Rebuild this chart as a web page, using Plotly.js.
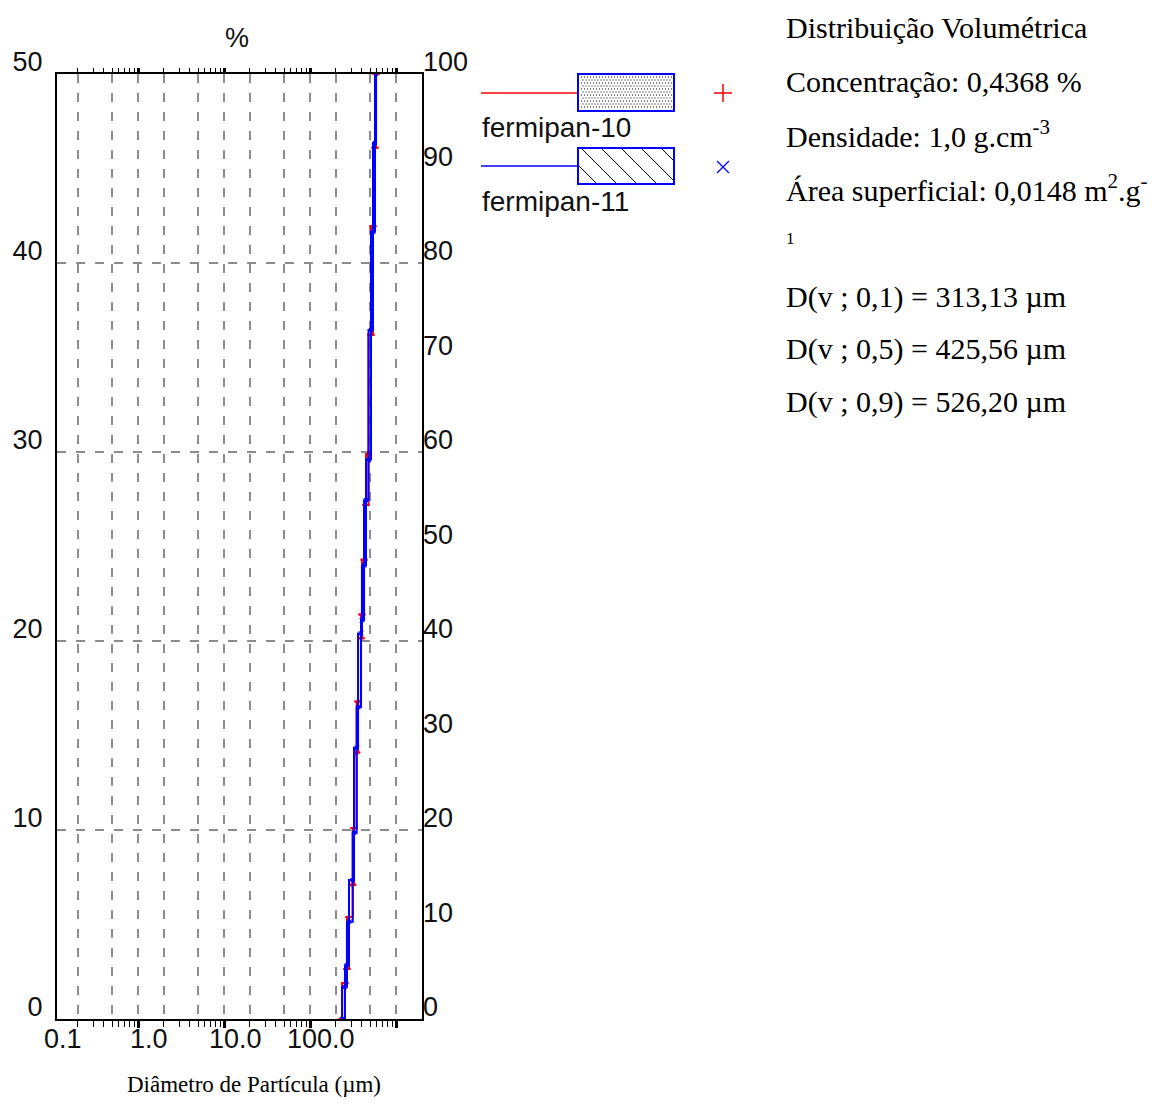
<!DOCTYPE html>
<html><head><meta charset="utf-8">
<script src="https://cdn.plot.ly/plotly-3.0.1.min.js"></script>
<style>html,body{margin:0;padding:0;background:#fff}#chart{width:1167px;height:1108px}</style>
</head><body><div id="chart"></div><script>
// ---------- data ----------
const seriesNames = ['fermipan-10', 'fermipan-11'];
// size-class limits (µm) shared by both samples, and cumulative volume (%) at each limit
const sizeClasses = [236, 255, 269, 284, 314, 325, 349, 362, 392, 402, 425, 448, 479, 512, 540, 570, 586];
const cum10 = [0, 3.8, 5.3, 10.8, 14.2, 20.2, 28.2, 33.6, 40.3, 42.8, 48.6, 54.4, 59.8, 72.4, 83.9, 92.2, 100];
const cum11 = [0, 3.4, 5.7, 10.3, 14.7, 19.7, 28.7, 33.0, 40.8, 42.2, 48.0, 54.9, 59.2, 72.9, 83.3, 92.7, 100];
const xTickVals = [0.1, 1, 10, 100];
const xTickText = ['0.1', '1.0', '10.0', '100.0'];
const gridVals = [0.2, 0.5, 1, 2, 5, 10, 20, 50, 100, 200, 500, 1000];
const decadeVals = [1, 10, 100, 1000];
const leftTicks = [0, 10, 20, 30, 40, 50];
const rightTicks = [0, 10, 20, 30, 40, 50, 60, 70, 80, 90, 100];
const infoLines = [
  'Distribuição Volumétrica',
  'Concentração: 0,4368 %',
  'Densidade: 1,0 g.cm<sup>-3</sup>',
  'Área superficial: 0,0148 m<sup>2</sup>.g<sup>-</sup>',
  'D(v ; 0,1) = 313,13 µm',
  'D(v ; 0,5) = 425,56 µm',
  'D(v ; 0,9) = 526,20 µm'
];

// ---------- geometry ----------
const W = 1167, H = 1108;
const PL = 57, PR = 422, PT = 74, PB = 1019;
const DEC = 86, ONE = 138;          // px per decade, px of 1 µm
const X = v => v / W, Y = v => 1 - v / H;
const xr = [(PL - ONE) / DEC, (PR - ONE) / DEC];
const minorVals = [];
[0.1, 1, 10, 100].forEach(d => { for (let k = 2; k <= 9; k++) minorVals.push(+(d * k).toPrecision(3)); });

const sans = 'Liberation Sans, Arial, sans-serif';
const serif = 'Liberation Serif, Times New Roman, serif';
const tickFont = {family: sans, size: 27, color: '#111'};
const gridStyle = {showgrid: true, gridcolor: '#8c8c8c', gridwidth: 1.5, griddash: '9px,10px'};

// each cumulative curve is drawn as the step band of its size classes (forward hv + backward hv)
function band(xs, ys) {
  return {x: xs.concat(xs.slice().reverse()), y: ys.concat(ys.slice().reverse())};
}
const b10 = band(sizeClasses, cum10), b11 = band(sizeClasses, cum11);

const traces = [
  {x: [], y: [], xaxis: 'x', yaxis: 'y', type: 'scatter', mode: 'lines', showlegend: false, hoverinfo: 'skip'},
  {x: [], y: [], xaxis: 'x2', yaxis: 'y', type: 'scatter', mode: 'lines', showlegend: false, hoverinfo: 'skip'},
  {x: [], y: [], xaxis: 'x3', yaxis: 'y', type: 'scatter', mode: 'lines', showlegend: false, hoverinfo: 'skip'},
  {x: b10.x, y: b10.y, xaxis: 'x', yaxis: 'y2', type: 'scatter', mode: 'lines+markers',
   name: seriesNames[0], showlegend: false, line: {shape: 'hv', color: '#ff0000', width: 2},
   marker: {symbol: 'cross-thin', size: 5, color: '#ff0000', line: {color: '#ff0000', width: 2}}},
  {x: b11.x, y: b11.y, xaxis: 'x', yaxis: 'y2', type: 'scatter', mode: 'lines+markers',
   name: seriesNames[1], showlegend: false, line: {shape: 'hv', color: '#0000ff', width: 2},
   marker: {symbol: 'x-thin', size: 4, color: '#0000ff', line: {color: '#0000ff', width: 1}}}
];

// ---------- legend drawing (shapes) ----------
const shapes = [];
function seg(x0, y0, x1, y1) { return 'M' + X(x0) + ',' + Y(y0) + 'L' + X(x1) + ',' + Y(y1); }
shapes.push({type: 'line', xref: 'paper', yref: 'paper', x0: X(481), x1: X(578), y0: Y(93), y1: Y(93), line: {color: '#ff0000', width: 1.5}});
shapes.push({type: 'rect', xref: 'paper', yref: 'paper', x0: X(578), x1: X(674), y0: Y(74), y1: Y(111), line: {color: '#0000ff', width: 2}, fillcolor: '#fff'});
let dots = '';
for (let r = 0, yy = 77; yy <= 108; r++, yy += 3) {
  for (let xx = 581 + (r % 2 ? 1.5 : 0); xx <= 671; xx += 3) dots += seg(xx, yy, xx + 1, yy);
}
shapes.push({type: 'path', xref: 'paper', yref: 'paper', path: dots, line: {color: '#000', width: 1}});
shapes.push({type: 'path', xref: 'paper', yref: 'paper', path: seg(714, 93, 732, 93) + seg(723, 84, 723, 102), line: {color: '#ff0000', width: 1.5}});
shapes.push({type: 'line', xref: 'paper', yref: 'paper', x0: X(481), x1: X(578), y0: Y(166), y1: Y(166), line: {color: '#0000ff', width: 1.5}});
shapes.push({type: 'rect', xref: 'paper', yref: 'paper', x0: X(578), x1: X(674), y0: Y(148), y1: Y(184), line: {color: '#0000ff', width: 2}, fillcolor: '#fff'});
let hatch = '';
const bl = 579, br = 673, bt = 149, bb = 183, hh = bb - bt;
for (let c = 562; c <= 672; c += 20) {
  let x0 = c, y0 = bt, x1 = c + hh, y1 = bb;
  if (x0 < bl) { y0 = bt + (bl - x0); x0 = bl; }
  if (x1 > br) { y1 = bb - (x1 - br); x1 = br; }
  hatch += seg(x0, y0, x1, y1);
}
shapes.push({type: 'path', xref: 'paper', yref: 'paper', path: hatch, line: {color: '#000', width: 1}});
shapes.push({type: 'path', xref: 'paper', yref: 'paper', path: seg(717, 161, 729, 173) + seg(717, 173, 729, 161), line: {color: '#0000ff', width: 1.3}});

// ---------- annotations ----------
const ann = [];
xTickVals.forEach((v, i) => ann.push({xref: 'paper', yref: 'paper', x: X(ONE + Math.log10(v) * DEC), y: Y(PB),
  text: xTickText[i], showarrow: false, xanchor: 'center', yanchor: 'top', xshift: 11, yshift: -3, font: tickFont}));
ann.push({xref: 'paper', yref: 'paper', x: X(237), y: Y(38), text: '%', showarrow: false, xanchor: 'center', yanchor: 'middle', font: tickFont});
ann.push({xref: 'paper', yref: 'paper', x: X(254), y: Y(1084), text: 'Diâmetro de Partícula (µm)', showarrow: false, xanchor: 'center', yanchor: 'middle', font: {family: serif, size: 23, color: '#000'}});
ann.push({xref: 'paper', yref: 'paper', x: X(480), y: Y(128), text: seriesNames[0], showarrow: false, xanchor: 'left', yanchor: 'middle', font: Object.assign({}, tickFont, {size: 28})});
ann.push({xref: 'paper', yref: 'paper', x: X(480), y: Y(201), text: seriesNames[1], showarrow: false, xanchor: 'left', yanchor: 'middle', font: Object.assign({}, tickFont, {size: 28})});
const infoY = [27, 81, 134, 188, 297, 349, 402];
infoLines.forEach((t, i) => ann.push({xref: 'paper', yref: 'paper', x: X(784), y: Y(infoY[i]), text: t, showarrow: false,
  xanchor: 'left', yanchor: 'middle', font: {family: serif, size: 30, color: '#000'}}));
ann.push({xref: 'paper', yref: 'paper', x: X(784), y: Y(239), text: '1', showarrow: false, xanchor: 'left', yanchor: 'middle', font: {family: serif, size: 17, color: '#000'}});

const layout = {
  width: W, height: H, margin: {l: 0, r: 0, t: 0, b: 0},
  paper_bgcolor: '#fff', plot_bgcolor: '#fff', showlegend: false,
  xaxis: Object.assign({type: 'log', range: xr, domain: [X(PL), X(PR)], anchor: 'y', tickmode: 'array', tickvals: gridVals,
    showticklabels: false, ticks: '', showline: true, linecolor: '#000', linewidth: 2, mirror: true, zeroline: false, fixedrange: true}, gridStyle),
  xaxis2: {type: 'log', range: xr, overlaying: 'x', anchor: 'y', side: 'bottom', tickmode: 'array', tickvals: decadeVals,
    ticks: 'outside', ticklen: 8, tickwidth: 3, tickcolor: '#000', showticklabels: false, showgrid: false, showline: false, zeroline: false,
    minor: {tickmode: 'array', tickvals: minorVals, ticks: 'outside', ticklen: 7, tickwidth: 1, tickcolor: '#000', showgrid: false}},
  xaxis3: {type: 'log', range: xr, overlaying: 'x', anchor: 'y', side: 'top', tickmode: 'array', tickvals: decadeVals,
    ticks: 'outside', ticklen: 5, tickwidth: 3, tickcolor: '#000', showticklabels: false, showgrid: false, showline: false, zeroline: false,
    minor: {tickmode: 'array', tickvals: minorVals, ticks: 'outside', ticklen: 5, tickwidth: 1, tickcolor: '#000', showgrid: false}},
  yaxis: Object.assign({range: [0, 50], domain: [Y(PB), Y(PT)], anchor: 'x', tickmode: 'array', tickvals: leftTicks, ticks: '',
    showline: true, linecolor: '#000', linewidth: 2, mirror: true, zeroline: false, tickfont: tickFont,
    ticklabelshift: -12, ticklabelstandoff: 7, fixedrange: true}, gridStyle),
  yaxis2: {range: [0, 100], overlaying: 'y', side: 'right', anchor: 'x', tickmode: 'array', tickvals: rightTicks, ticks: '',
    showgrid: false, showline: false, zeroline: false, tickfont: tickFont, ticklabelshift: -12, ticklabelstandoff: 0, fixedrange: true},
  shapes: shapes, annotations: ann
};
Plotly.newPlot('chart', traces, layout, {staticPlot: true, displayModeBar: false});
</script></body></html>
